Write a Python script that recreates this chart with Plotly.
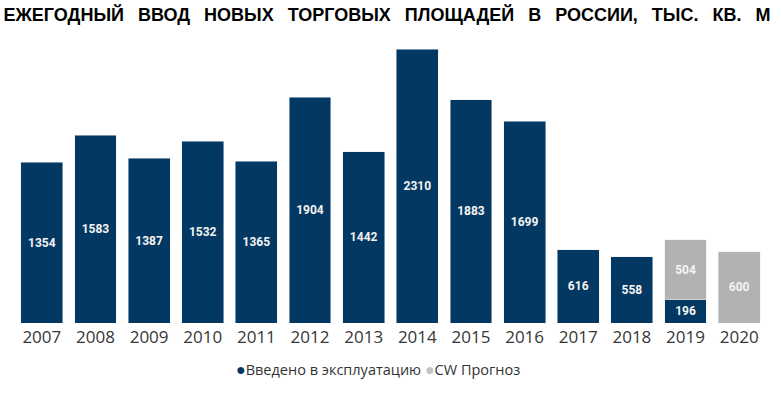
import plotly.graph_objects as go

years = ["2007", "2008", "2009", "2010", "2011", "2012", "2013", "2014",
         "2015", "2016", "2017", "2018", "2019", "2020"]
actual = [1354, 1583, 1387, 1532, 1365, 1904, 1442, 2310, 1883, 1699, 616, 558, 196, None]
forecast = [None, None, None, None, None, None, None, None, None, None, None, None, 504, 600]
series_names = ["Введено в эксплуатацию", "CW Прогноз"]
title_words = ["ЕЖЕГОДНЫЙ", "ВВОД", "НОВЫХ", "ТОРГОВЫХ", "ПЛОЩАДЕЙ", "В", "РОССИИ,", "ТЫС.", "КВ.", "М"]

NAVY = "#033862"
GRAY = "#b2b2b2"

def labels(vals):
    return [str(v) if v is not None else "" for v in vals]

bar_font = dict(family="Roboto", size=12, color="#f4f4f4", weight="bold")

fig = go.Figure()
fig.add_trace(go.Bar(
    x=years, y=actual, name=series_names[0], marker_color=NAVY,
    text=labels(actual), textposition="inside", insidetextanchor="middle",
    textangle=0, constraintext="none", textfont=bar_font, showlegend=False,
))
fig.add_trace(go.Bar(
    x=years, y=forecast, name=series_names[1], marker_color=GRAY,
    text=labels(forecast), textposition="inside", insidetextanchor="middle",
    textangle=0, constraintext="none", textfont=bar_font, showlegend=False,
))

title_text = "\u2002\u00a0".join(title_words)

legend_text = (f'<span style="color:{NAVY};font-size:16px">●</span>{series_names[0]}'
               f'\u00a0<span style="color:#c4c4c4;font-size:16px">●</span>{series_names[1]}')

fig.update_layout(
    width=781, height=393,
    margin=dict(l=15, r=15, t=49, b=70),
    paper_bgcolor="white", plot_bgcolor="white",
    barmode="stack", bargap=0.22,
    title=dict(text=f"<b>{title_text}</b>", x=387 / 781, xref="container", xanchor="center",
               y=1 - 15 / 393, yref="container", yanchor="middle",
               font=dict(family="Liberation Sans", size=18, color="#000000")),
    xaxis=dict(type="category", showgrid=False, showline=False, zeroline=False,
               ticks="", tickfont=dict(family="Open Sans", size=17, color="#363636"),
               ticklabelstandoff=2),
    yaxis=dict(range=[0, 2310], visible=False, showgrid=False, zeroline=False),
    showlegend=False,
    annotations=[dict(
        text=legend_text, xref="paper", yref="paper", x=(378 - 15) / 751, y=(323 - 369) / 274,
        xanchor="center", yanchor="middle", showarrow=False,
        font=dict(family="Open Sans", size=14.5, color="#333333"),
    )],
)

fig.write_html("out.html", config={"displayModeBar": False},
               post_script="document.body.style.margin='0px';")
